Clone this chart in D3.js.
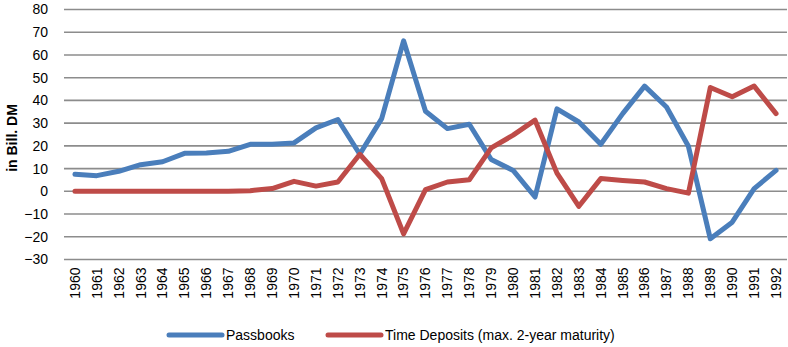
<!DOCTYPE html>
<html><head><meta charset="utf-8">
<script src="https://cdn.jsdelivr.net/npm/d3@7"></script>
<style>
html,body{margin:0;padding:0;background:#fff;}
svg{display:block;font-family:"Liberation Sans",Arial,sans-serif;}
</style></head>
<body><svg id="c" width="788" height="347"></svg>
<script>
const years = ["1960","1961","1962","1963","1964","1965","1966","1967","1968","1969","1970","1971","1972","1973","1974","1975","1976","1977","1978","1979","1980","1981","1982","1983","1984","1985","1986","1987","1988","1989","1990","1991","1992"];
const passbooks = [7.5,6.9,8.8,11.7,13,16.7,16.9,17.6,20.7,20.7,21.3,27.9,31.6,16.3,32,66.2,35.2,27.6,29.5,14,9.2,-2.5,36.3,30.5,20.7,34.2,46.3,37.1,19.8,-20.9,-13.6,1.2,9.2];
const timeDeposits = [0,0,0,0,0,0,0,0,0.3,1.2,4.4,2.3,4.1,16.3,5.6,-18.7,0.7,4.1,5.1,19.1,24.7,31.3,8,-6.6,5.6,4.8,4.1,1.2,-0.8,45.7,41.6,46.3,34.2];
const yTicks = [-30,-20,-10,0,10,20,30,40,50,60,70,80];
const seriesNames = ["Passbooks","Time Deposits (max. 2-year maturity)"];
const seriesColors = ["#4a7ebb","#be4b48"];

(function () {
const svg = d3.select("#c");
const pL = 64, pR = 787, pT = 9.5, pB = 259.5;
const x = d3.scaleBand().domain(years).range([pL, pR]).padding(0);
const y = d3.scaleLinear().domain([-30, 80]).range([pB, pT]);

// gridlines
svg.append("g").selectAll("line").data(yTicks).join("line")
  .attr("x1", pL).attr("x2", pR)
  .attr("y1", d => y(d)).attr("y2", d => y(d))
  .attr("stroke", "#8c8c8c").attr("stroke-width", 1.6);

// y axis labels
const yAxis = d3.axisLeft(y).tickValues(yTicks).tickSize(0).tickPadding(0);
const ya = svg.append("g").attr("transform", "translate(48,0)").call(yAxis);
ya.select(".domain").remove();
ya.selectAll("text").attr("font-size", 14).attr("fill", "#000")
  .attr("font-family", "'Liberation Sans',Arial,sans-serif");

// x axis labels
const xAxis = d3.axisBottom(x).tickSize(0).tickPadding(0);
const xa = svg.append("g").attr("transform", `translate(0,${pB})`).call(xAxis);
xa.select(".domain").remove();
xa.selectAll("text")
  .attr("font-size", 14).attr("fill", "#000")
  .attr("font-family", "'Liberation Sans',Arial,sans-serif")
  .attr("transform", "rotate(-90)")
  .attr("text-anchor", "end")
  .attr("x", -8).attr("y", 0).attr("dy", "0.35em");

// y axis title
svg.append("text")
  .attr("transform", "translate(17,138) rotate(-90)")
  .attr("text-anchor", "middle")
  .attr("font-size", 14).attr("font-weight", "bold")
  .text("in Bill. DM");

// lines
const line = d3.line().x((d, i) => x(years[i]) + x.bandwidth() / 2).y(d => y(d));
[passbooks, timeDeposits].forEach((s, k) => {
  svg.append("path").datum(s)
    .attr("d", line).attr("fill", "none")
    .attr("stroke", seriesColors[k]).attr("stroke-width", 5)
    .attr("stroke-linejoin", "round").attr("stroke-linecap", "round");
});

// legend
const legX = [169, 328];
const legY = 335;
seriesNames.forEach((n, k) => {
  svg.append("line").attr("x1", legX[k]).attr("x2", legX[k] + 53)
    .attr("y1", legY).attr("y2", legY)
    .attr("stroke", seriesColors[k]).attr("stroke-width", 5).attr("stroke-linecap", "round");
  svg.append("text").attr("x", legX[k] + 57).attr("y", legY + 5)
    .attr("font-size", 14).attr("fill", "#000").text(n);
});
})();
</script></body></html>
